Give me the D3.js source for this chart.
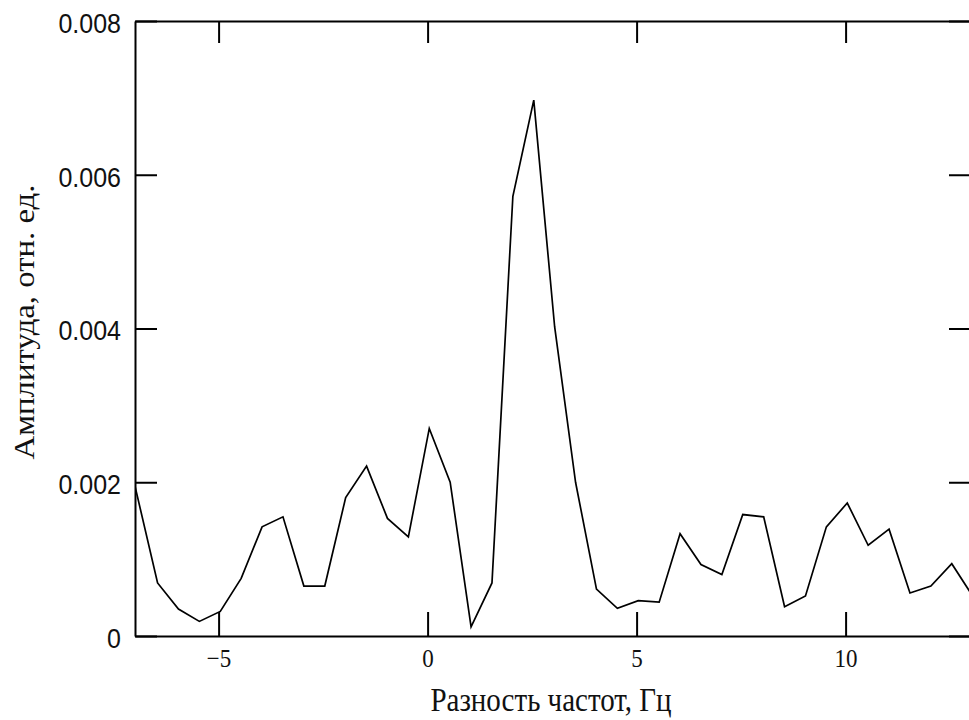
<!DOCTYPE html>
<html>
<head>
<meta charset="utf-8">
<script src="https://cdn.jsdelivr.net/npm/d3@7"></script>
<style>
  html, body { margin: 0; padding: 0; background: #fff; }
  svg { display: block; }
  .ytick text { font-family: "Liberation Sans", Arial, sans-serif; font-size: 25px; fill: #111; }
  .xtick text { font-family: "Liberation Serif", "Times New Roman", serif; font-size: 23px; fill: #111; }
  .title { font-family: "Liberation Serif", "Times New Roman", serif; font-size: 29px; fill: #111; }
</style>
</head>
<body>
<svg id="chart" width="969" height="720"></svg>
<script>
// frequency difference, Hz
const freqs = [-7.0, -6.46, -5.96, -5.46, -4.96, -4.46, -3.96, -3.46, -2.96, -2.46,
  -1.96, -1.46, -0.96, -0.46, 0.04, 0.54, 1.04, 1.54, 2.04, 2.54,
  3.04, 3.54, 4.04, 4.54, 5.04, 5.54, 6.04, 6.54, 7.04, 7.54,
  8.04, 8.54, 9.04, 9.54, 10.04, 10.54, 11.04, 11.54, 12.04, 12.54, 13.04];
// amplitude, rel. units
const amps = [0.00195, 0.00069, 0.00035, 0.00019, 0.00032, 0.00075, 0.00142, 0.00155, 0.00065, 0.00065,
  0.00180, 0.00221, 0.00153, 0.00129, 0.00270, 0.00200, 0.00012, 0.00069, 0.00572, 0.00697,
  0.00402, 0.00200, 0.00061, 0.00036, 0.00046, 0.00044, 0.00133, 0.00093, 0.00080, 0.00158,
  0.00155, 0.00038, 0.00052, 0.00142, 0.00173, 0.00118, 0.00139, 0.00056, 0.00065, 0.00094, 0.00052];
const xTicks = [-5, 0, 5, 10];
const yTicks = [0, 0.002, 0.004, 0.006, 0.008];
const xLabel = 'Разность частот, Гц';
const yLabel = 'Амплитуда, отн. ед.';

const L = 135, R = 971, T = 21, B = 636;
const STRETCH = 1.13;   // the text in the source looks a bit taller than wide
const svg = d3.select('#chart');

const x = d3.scaleLinear().domain([-7, 13]).range([L, R]);
const y = d3.scaleLinear().domain([0, 0.008]).range([B, T]);

svg.append('clipPath').attr('id', 'plot')
  .append('rect').attr('x', L).attr('y', T - 2).attr('width', R - L).attr('height', B - T + 4);

// data line
svg.append('path')
  .datum(freqs.map((f, i) => [f, amps[i]]))
  .attr('clip-path', 'url(#plot)')
  .attr('fill', 'none')
  .attr('stroke', '#000')
  .attr('stroke-width', 1.7)
  .attr('d', d3.line().x(d => x(d[0])).y(d => y(d[1])));

const fmtY = v => v === 0 ? '0' : d3.format('.3f')(v);
const fmtX = v => v < 0 ? '\u2212' + Math.abs(v) : String(v);
const tallText = g => g.selectAll('text')
  .attr('font-family', null).attr('font-size', null)
  .attr('transform', `scale(1,${STRETCH})`);

// axes: ticks point inward on all four sides
svg.append('g').attr('class', 'xtick').attr('transform', `translate(0,${B})`)
  .call(d3.axisBottom(x).tickValues(xTicks).tickSizeInner(-24).tickSizeOuter(0).tickPadding(11).tickFormat(fmtX))
  .call(tallText);

svg.append('g').attr('class', 'xtick').attr('transform', `translate(0,${T})`)
  .call(d3.axisTop(x).tickValues(xTicks).tickSizeInner(-22).tickSizeOuter(0).tickFormat(''));

svg.append('g').attr('class', 'ytick').attr('transform', `translate(${L},0)`)
  .call(d3.axisLeft(y).tickValues(yTicks).tickSizeInner(-22).tickSizeOuter(0).tickPadding(14).tickFormat(fmtY))
  .call(tallText)
  .call(g => g.selectAll('text').attr('dy', '0.4em'));

svg.append('g').attr('class', 'ytick').attr('transform', `translate(${R},0)`)
  .call(d3.axisRight(y).tickValues(yTicks).tickSizeInner(-22).tickSizeOuter(0).tickFormat(''));

svg.selectAll('.domain').attr('stroke', '#000').attr('stroke-width', 2);
svg.selectAll('.tick line').attr('stroke', '#000').attr('stroke-width', 2);

// axis titles
svg.append('text').attr('class', 'title')
  .attr('transform', `translate(551,711) scale(1,${STRETCH})`)
  .attr('text-anchor', 'middle')
  .text(xLabel);

svg.append('text').attr('class', 'title')
  .attr('transform', `translate(34,322) rotate(-90) scale(${STRETCH},1)`)
  .attr('text-anchor', 'middle')
  .text(yLabel);
</script>
</body>
</html>
